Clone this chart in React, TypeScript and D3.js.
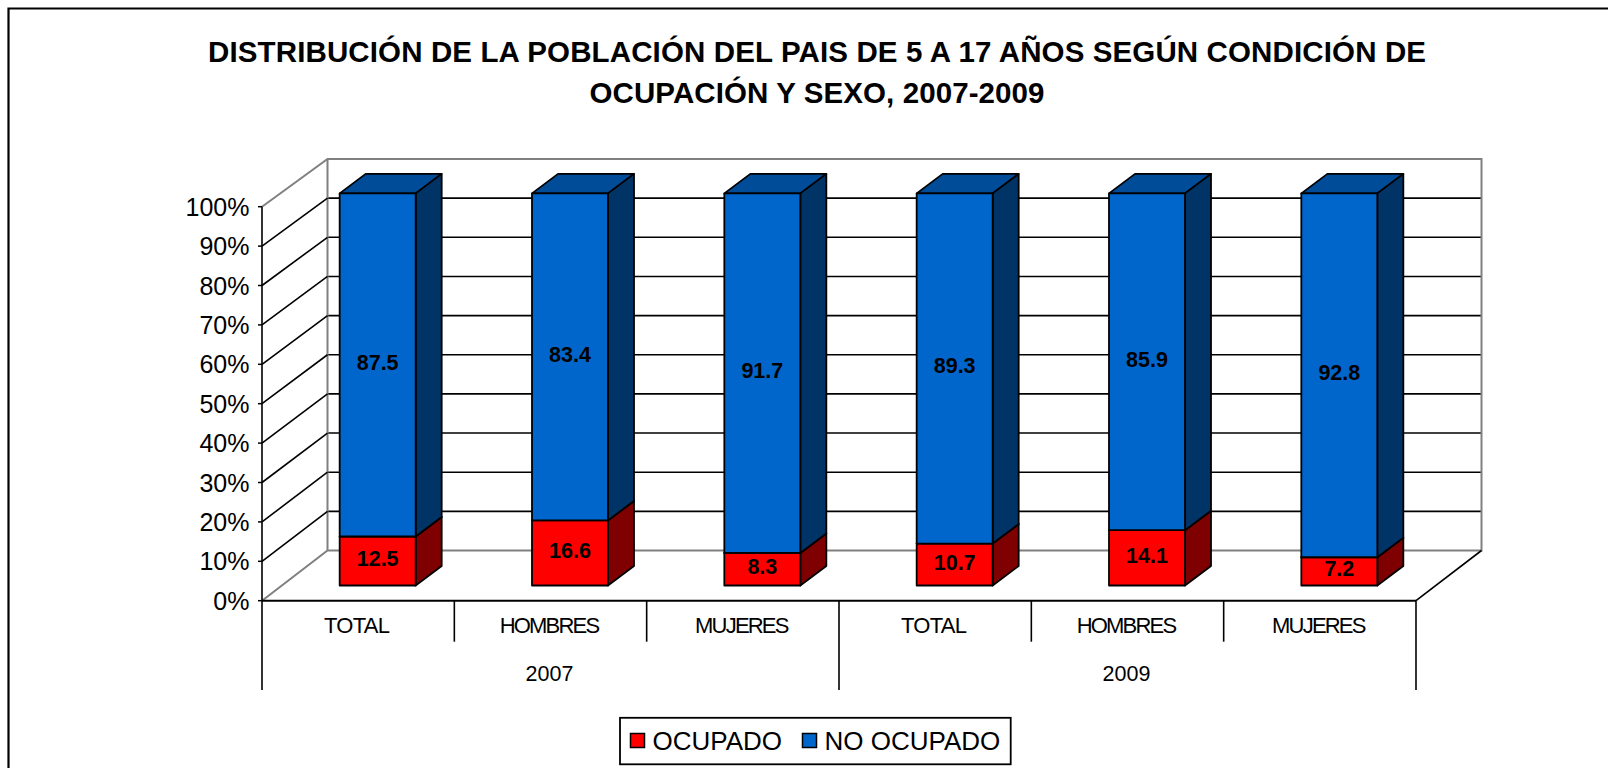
import React from "react";
import * as d3 from "d3";

const titleLines = ["DISTRIBUCIÓN DE LA POBLACIÓN DEL PAIS DE 5 A 17 AÑOS SEGÚN CONDICIÓN DE", "OCUPACIÓN Y SEXO, 2007-2009"];
const categories = ["TOTAL", "HOMBRES", "MUJERES", "TOTAL", "HOMBRES", "MUJERES"];
const years = ["2007", "2009"];
const ocupado = [12.5, 16.6, 8.3, 10.7, 14.1, 7.2];
const noOcupado = [87.5, 83.4, 91.7, 89.3, 85.9, 92.8];
const ticks = [0, 10, 20, 30, 40, 50, 60, 70, 80, 90, 100];
const seriesNames = ["OCUPADO", "NO OCUPADO"];

const FONT = "'Liberation Sans', Arial, sans-serif";
const BLUE = { front: "#0066CC", top: "#004C99", side: "#003366" };
const RED = { front: "#FF0000", top: "#CC0000", side: "#7F0000" };
const GRAY = "#808080";

const left = 262, right = 1416, axisBottom = 600.7;
const x = d3.scaleBand<number>().domain(d3.range(6)).range([left, right]);
const yFront = d3.scaleLinear().domain([0, 100]).range([axisBottom, 206.7]);
const yBack = d3.scaleLinear().domain([0, 100]).range([550.5, 159]);
const yBar = d3.scaleLinear().domain([0, 100]).range([585.5, 193.4]);
const pct = d3.format(".0f");
const WALL_DX = 65.5;
const BAR_SHIFT = 19.5, BAR_W = 76, BAR_DX = 26, BAR_DY = 19.5;

function Box({ x0, y0, y1, c }: { x0: number; y0: number; y1: number; c: typeof BLUE }) {
  const x1 = x0 + BAR_W;
  const poly = (p: number[][]) => p.map((q) => q.join(",")).join(" ");
  const st = { stroke: "#000", strokeWidth: 1.8, strokeLinejoin: "round" as const };
  return (
    <g>
      <polygon points={poly([[x0, y1], [x0 + BAR_DX, y1 - BAR_DY], [x1 + BAR_DX, y1 - BAR_DY], [x1, y1]])} fill={c.top} {...st} />
      <polygon points={poly([[x1, y0], [x1 + BAR_DX, y0 - BAR_DY], [x1 + BAR_DX, y1 - BAR_DY], [x1, y1]])} fill={c.side} {...st} />
      <rect x={x0} y={y1} width={BAR_W} height={y0 - y1} fill={c.front} {...st} />
    </g>
  );
}

export default function App() {
  const bw = x.bandwidth();
  return (
    <svg width={1608} height={768} viewBox="0 0 1608 768" style={{ position: "absolute", left: 0, top: 0, display: "block", background: "#fff" }} fontFamily={FONT}>
      <path d="M1610,8.5 H8.5 V770" fill="none" stroke="#000" strokeWidth={2.2} />

      {titleLines.map((t, i) => (
        <text key={i} x={817} y={62 + i * 41} textAnchor="middle" fontWeight="bold" fontSize={29.5} fill="#000"
          textLength={i === 0 ? 1218 : 455} lengthAdjust="spacing">{t}</text>
      ))}

      {/* back wall */}
      {ticks.slice(1, -1).map((t) => (
        <line key={t} x1={left + WALL_DX} x2={right + WALL_DX} y1={yBack(t)} y2={yBack(t)} stroke="#000" strokeWidth={1.6} />
      ))}
      <path d={`M${left},${yFront(100)} L${left + WALL_DX},${yBack(100)} H${right + WALL_DX} V${yBack(0)} H${left + WALL_DX} L${left},${yFront(0)}`}
        fill="none" stroke={GRAY} strokeWidth={2} />
      <line x1={left + WALL_DX} x2={left + WALL_DX} y1={yBack(100)} y2={yBack(0)} stroke={GRAY} strokeWidth={2} />

      {/* side wall */}
      {ticks.slice(1, -1).map((t) => (
        <line key={t} x1={left} x2={left + WALL_DX} y1={yFront(t)} y2={yBack(t)} stroke="#000" strokeWidth={1.6} />
      ))}
      <line x1={right} y1={axisBottom} x2={right + WALL_DX} y2={yBack(0)} stroke="#000" strokeWidth={1.6} />

      {/* value axis */}
      {ticks.map((t) => (
        <g key={t}>
          <line x1={258} x2={left} y1={yFront(t)} y2={yFront(t)} stroke="#000" strokeWidth={1.5} />
          <text x={249.5} y={yFront(t) + 9} textAnchor="end" fontSize={25} fill="#000">{pct(t)}%</text>
        </g>
      ))}

      {/* category axis */}
      <line x1={left} x2={right} y1={axisBottom} y2={axisBottom} stroke="#000" strokeWidth={2} />
      {d3.range(7).map((i) => {
        const px = i === 6 ? right : x(i)!;
        const long = i % 3 === 0;
        return <line key={i} x1={px} x2={px} y1={i === 0 ? yFront(100) : axisBottom} y2={long ? 690 : 641.7} stroke="#000" strokeWidth={1.6} />;
      })}
      {categories.map((c, i) => (
        <text key={i} x={x(i)! + bw / 2 - 1.5} y={633} textAnchor="middle" fontSize={22} letterSpacing={c === "TOTAL" ? -0.7 : -1.8} fill="#000">{c}</text>
      ))}
      {years.map((yr, i) => (
        <text key={yr} x={x(i * 3)! + bw * 1.5 - 1} y={681} textAnchor="middle" fontSize={21.5} fill="#000">{yr}</text>
      ))}

      {/* bars */}
      {categories.map((_, i) => {
        const x0 = x(i)! + (bw - BAR_W) / 2 + BAR_SHIFT;
        const mid = ocupado[i];
        const total = ocupado[i] + noOcupado[i];
        return (
          <g key={i}>
            <Box x0={x0} y0={yBar(0)} y1={yBar(mid)} c={RED} />
            <Box x0={x0} y0={yBar(mid)} y1={yBar(total)} c={BLUE} />
          </g>
        );
      })}
      {categories.map((_, i) => {
        const cx = x(i)! + bw / 2 + BAR_SHIFT;
        const mid = ocupado[i];
        return (
          <g key={i} fontWeight="bold" fontSize={21.5} textAnchor="middle" fill="#000">
            <text x={cx} y={(yBar(0) + yBar(mid)) / 2 + 5}>{ocupado[i]}</text>
            <text x={cx} y={(yBar(mid) + yBar(100)) / 2 + 5}>{noOcupado[i]}</text>
          </g>
        );
      })}

      {/* legend */}
      <rect x={620} y={717.8} width={390.7} height={46.5} fill="#fff" stroke="#000" strokeWidth={1.8} />
      {seriesNames.map((s, i) => {
        const sx = i === 0 ? 630.5 : 802.5;
        return (
          <g key={s}>
            <rect x={sx} y={733.5} width={14} height={14} fill={i === 0 ? RED.front : BLUE.front} stroke="#000" strokeWidth={1.5} />
            <text x={sx + 22} y={750} fontSize={26} fill="#000">{s}</text>
          </g>
        );
      })}
    </svg>
  );
}
